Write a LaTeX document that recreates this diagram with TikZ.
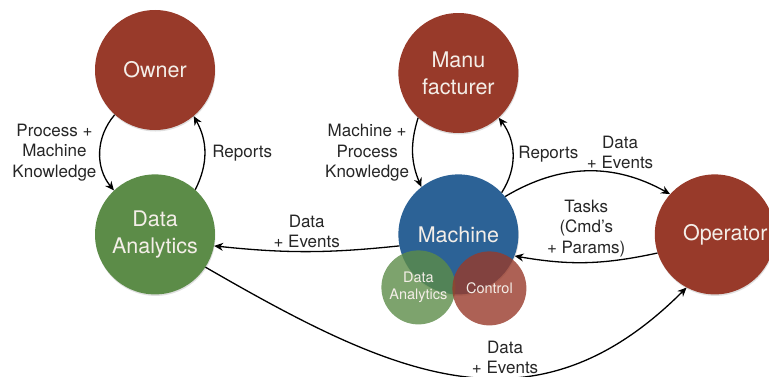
\documentclass[tikz,border=0pt]{standalone}
\usepackage{fontspec}
\setmainfont{TeX Gyre Heros}
\usetikzlibrary{positioning,arrows.meta,shadows}

\definecolor{rust}{RGB}{152,58,42}
\definecolor{leaf}{RGB}{92,140,72}
\definecolor{steel}{RGB}{44,98,150}
\definecolor{chalk}{RGB}{244,238,232}

\begin{document}
\begin{tikzpicture}[
    x=1pt, y=1pt,
    actor/.style={circle, fill=rust, minimum size=120pt, inner sep=0pt,
                  align=center, text=chalk, font=\fontsize{21.5}{27}\selectfont,
                  drop shadow={opacity=0.25, shadow xshift=0.5pt, shadow yshift=-1.5pt}},
    part/.style={circle, minimum size=74pt, inner sep=0pt, align=center,
                 text=chalk, fill opacity=0.8, text opacity=1,
                 font=\fontsize{14.5}{17}\selectfont},
    lbl/.style={align=center, inner sep=1pt, text=black!85,
                font=\fontsize{17}{20.5}\selectfont},
    arrow/.style={-{Stealth[length=9pt,width=8pt]}, line width=1.3pt}
  ]
  \useasboundingbox (0,0) rectangle (769,376);

  % ---- Left pair ----
  \node[actor] (owner) at (155,306) {Owner};
  \node[actor, fill=leaf, below=44pt of owner] (da) {Data\\Analytics};

  % ---- Machine pair ----
  \node[actor, fill=steel, right=183pt of da] (machine) {Machine};
  \node[actor, above=41pt of machine] (manu) {Manu\\facturer};

  % ---- Operator ----
  \node[actor, right=136pt of machine] (operator) {\hspace*{21pt}Operator};

  % ---- Parts of the machine ----
  \node[part, fill=leaf] (subda) at ([shift={(-40pt,-53pt)}]machine.center) {Data\\Analytics};
  \node[part, fill=rust] (ctrl) at ([shift={(31pt,-54pt)}]machine.center) {Control};

  % ---- Arrows ----
  \draw[arrow] (owner.228) to[bend right=40]
      node[lbl, left=2pt] (pmk) {Process +\\Machine\\Knowledge} (da.133);
  \draw[arrow] (da.48) to[bend right=28]
      node[lbl, right=6pt] (rep1) {Reports} (owner.310);
  \draw[arrow] (manu.228) to[bend right=20]
      node[lbl, left=2pt] (mpk) {Machine +\\Process\\Knowledge} (machine.128);
  \draw[arrow] (machine.44) to[bend right=35]
      node[lbl, right=4pt] (rep2) {Reports} (manu.312);
  \draw[arrow] (machine.191) to[bend left=6]
      node[lbl, above=2pt] (de1) {Data\\+ Events} (da.-11);
  \draw[arrow] (machine.39) to[bend left=30]
      node[lbl, pos=0.7, above=4pt] (de2) {Data\\+ Events} (operator.138);
  \draw[arrow] (operator.198) to[bend left=11]
      node[lbl, above=4pt] (tasks) {Tasks\\(Cmd's\\+ Params)} (machine.-21);
  \draw[arrow] (da.-33) to[out=-30, in=225, looseness=1.15]
      node[lbl, pos=0.6, above=2pt] (de3) {Data\\+ Events} (operator.242);
\end{tikzpicture}
\end{document}
